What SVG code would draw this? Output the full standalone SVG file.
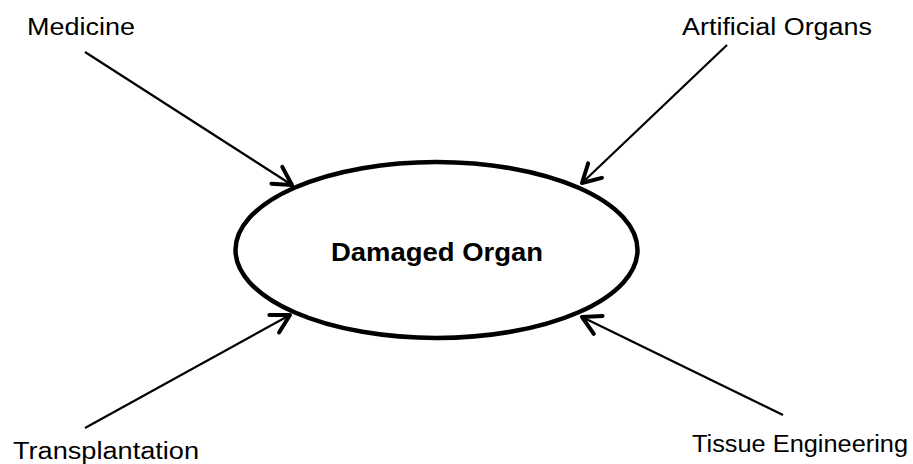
<svg xmlns="http://www.w3.org/2000/svg" width="913" height="464" viewBox="0 0 913 464">
<style>
.lbl{font-family:"Liberation Sans",Arial,sans-serif;font-size:23px;fill:#000}
.ttl{font-family:"Liberation Sans",Arial,sans-serif;font-size:25px;font-weight:bold;fill:#000}
.con{stroke:#000;stroke-width:2.2;fill:none;marker-end:url(#arr)}
</style>
<defs>
<marker id="arr" viewBox="-24 -14 28 28" refX="0" refY="0" markerWidth="28" markerHeight="28" markerUnits="userSpaceOnUse" orient="auto">
<path d="M-18,-10 L0,0 L-18,10" fill="none" stroke="#000" stroke-width="4" stroke-linecap="round" stroke-linejoin="round"/>
</marker>
</defs>
<rect width="913" height="464" fill="#fff"/>
<g id="damaged-organ">
<ellipse cx="436.5" cy="250" rx="201" ry="88" fill="#fff" stroke="#000" stroke-width="4.5"/>
<text class="ttl" x="437" y="261" text-anchor="middle" textLength="212" lengthAdjust="spacingAndGlyphs">Damaged Organ</text>
</g>
<g id="medicine"><text class="lbl" x="27" y="35" textLength="108" lengthAdjust="spacingAndGlyphs">Medicine</text></g>
<g id="artificial-organs"><text class="lbl" x="682" y="35" textLength="190" lengthAdjust="spacingAndGlyphs">Artificial Organs</text></g>
<g id="transplantation"><text class="lbl" x="13" y="459" textLength="186" lengthAdjust="spacingAndGlyphs">Transplantation</text></g>
<g id="tissue-engineering"><text class="lbl" x="692" y="452" textLength="216" lengthAdjust="spacingAndGlyphs">Tissue Engineering</text></g>
<g id="connectors">
<line class="con" x1="85" y1="52" x2="292" y2="185"/>
<line class="con" x1="727" y1="45" x2="582" y2="183"/>
<line class="con" x1="85" y1="428" x2="290" y2="315"/>
<line class="con" x1="783" y1="415" x2="582" y2="317"/>
</g>
</svg>
